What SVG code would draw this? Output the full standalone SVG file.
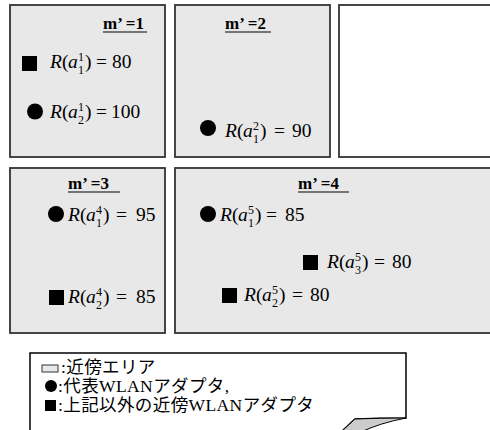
<svg xmlns="http://www.w3.org/2000/svg" width="490" height="430" viewBox="0 0 490 430">
<style>
.area{fill:#e8e8e8;stroke:#333;stroke-width:1.8}
.blank{fill:#fff;stroke:#333;stroke-width:1.8}
.ttl{font-family:"Liberation Serif",serif;font-weight:bold;font-size:17px;fill:#000}
.ul{stroke:#000;stroke-width:1.2}
.eq{font-family:"Liberation Serif",serif;font-size:19.5px;fill:#000}
.i{font-style:italic}
.s{font-size:12px}
.mk{fill:#000}
.lg{font-family:"Liberation Serif","Noto Sans CJK JP",sans-serif;font-size:17.5px;letter-spacing:0.4px;fill:#000}
</style>
<rect width="490" height="430" fill="#fff"/>
<g id="area1">
<rect class="area" x="10" y="5" width="155" height="152"/>
<text class="ttl" x="103" y="29">m’ =1</text>
<line class="ul" x1="103" y1="32" x2="147" y2="32"/>
<rect class="mk" x="22" y="56" width="15" height="15"/>
<text class="eq" y="68"><tspan class="i" x="50">R</tspan><tspan x="62">(</tspan><tspan class="i" x="68">a</tspan><tspan class="s" x="78" y="61">1</tspan><tspan class="s" x="78" y="74">1</tspan><tspan x="85" y="68">)</tspan><tspan x="96">=</tspan><tspan x="112">80</tspan></text>
<circle class="mk" cx="35" cy="111.5" r="8"/>
<text class="eq" y="118"><tspan class="i" x="50">R</tspan><tspan x="62">(</tspan><tspan class="i" x="68">a</tspan><tspan class="s" x="78" y="111">1</tspan><tspan class="s" x="78" y="124">2</tspan><tspan x="85" y="118">)</tspan><tspan x="96">=</tspan><tspan x="111">100</tspan></text>
</g>
<g id="area2">
<rect class="area" x="175" y="5" width="155" height="152"/>
<text class="ttl" x="225" y="29">m’ =2</text>
<line class="ul" x1="225" y1="32" x2="271" y2="32"/>
<circle class="mk" cx="208" cy="128" r="8"/>
<text class="eq" y="137"><tspan class="i" x="225">R</tspan><tspan x="237">(</tspan><tspan class="i" x="243">a</tspan><tspan class="s" x="253" y="130">2</tspan><tspan class="s" x="253" y="143">1</tspan><tspan x="260" y="137">)</tspan><tspan x="274">=</tspan><tspan x="292">90</tspan></text>
</g>
<g id="area-empty">
<rect class="blank" x="339" y="5" width="160" height="152"/>
</g>
<g id="area3">
<rect class="area" x="10" y="168" width="155" height="165"/>
<text class="ttl" x="68" y="189">m’ =3</text>
<line class="ul" x1="68" y1="192" x2="120" y2="192"/>
<circle class="mk" cx="56" cy="214" r="8"/>
<text class="eq" y="221"><tspan class="i" x="68">R</tspan><tspan x="80">(</tspan><tspan class="i" x="86">a</tspan><tspan class="s" x="96" y="214">4</tspan><tspan class="s" x="96" y="227">1</tspan><tspan x="103" y="221">)</tspan><tspan x="116">=</tspan><tspan x="136">95</tspan></text>
<rect class="mk" x="49" y="290" width="15" height="15"/>
<text class="eq" y="303"><tspan class="i" x="68">R</tspan><tspan x="80">(</tspan><tspan class="i" x="86">a</tspan><tspan class="s" x="96" y="296">4</tspan><tspan class="s" x="96" y="309">2</tspan><tspan x="103" y="303">)</tspan><tspan x="116">=</tspan><tspan x="136">85</tspan></text>
</g>
<g id="area4">
<rect class="area" x="175" y="168" width="324" height="165"/>
<text class="ttl" x="298" y="189">m’ =4</text>
<line class="ul" x1="298" y1="192" x2="349" y2="192"/>
<circle class="mk" cx="208" cy="214" r="8"/>
<text class="eq" y="221"><tspan class="i" x="220">R</tspan><tspan x="232">(</tspan><tspan class="i" x="238">a</tspan><tspan class="s" x="248" y="214">5</tspan><tspan class="s" x="248" y="227">1</tspan><tspan x="255" y="221">)</tspan><tspan x="266">=</tspan><tspan x="285">85</tspan></text>
<rect class="mk" x="303" y="255" width="15" height="15"/>
<text class="eq" y="268"><tspan class="i" x="327">R</tspan><tspan x="339">(</tspan><tspan class="i" x="345">a</tspan><tspan class="s" x="355" y="261">5</tspan><tspan class="s" x="355" y="274">3</tspan><tspan x="362" y="268">)</tspan><tspan x="374">=</tspan><tspan x="392">80</tspan></text>
<rect class="mk" x="222" y="288" width="15" height="15"/>
<text class="eq" y="301"><tspan class="i" x="244">R</tspan><tspan x="256">(</tspan><tspan class="i" x="262">a</tspan><tspan class="s" x="272" y="294">5</tspan><tspan class="s" x="272" y="307">2</tspan><tspan x="279" y="301">)</tspan><tspan x="292">=</tspan><tspan x="310">80</tspan></text>
</g>
<g id="legend">
<path d="M30,432 L30,353 L406,353 L406,418 Q380,418 355,419 L341,432" fill="#fff" stroke="#000" stroke-width="1.5"/>
<path d="M406,418 Q380,418 355,419 L341,432 L361,432 Q380,423 406,418 Z" fill="#ccc" stroke="#000" stroke-width="1"/>
<rect x="42" y="365" width="16" height="7" fill="#e8e8e8" stroke="#333" stroke-width="1"/>
<text class="lg" x="61" y="373">:近傍エリア</text>
<circle class="mk" cx="51" cy="386" r="6"/>
<text class="lg" x="58" y="392">:代表WLANアダプタ,</text>
<rect class="mk" x="45" y="400" width="11" height="11"/>
<text class="lg" x="58" y="411">:上記以外の近傍WLANアダプタ</text>
</g>
</svg>
